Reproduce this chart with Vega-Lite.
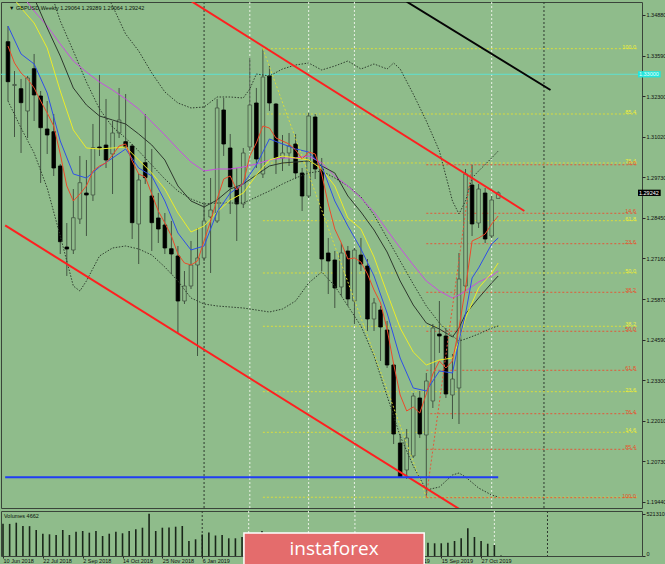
{
"$schema":"https://vega.github.io/schema/vega-lite/v6.json",
"background":"#8fbc8b",
"padding":{"left":0,"top":1,"right":0,"bottom":0},
"spacing":3,
"bounds":"flush",
"config":{"view":{"stroke":"#3a443a","strokeWidth":1,"fill":"#8fbc8b"},"axis":{"labelFont":"Liberation Sans","labelFontSize":5.5,"labelColor":"#101010","tickColor":"#2a2a2a","domainColor":"#2a2a2a","grid":false,"title":null},"text":{"font":"Liberation Sans"}},
"datasets":{
"one":[{}],
"bars":[
{"d":"2018-06-10","o":1.34034,"h":1.34531,"l":1.32153,"c":1.32765,"v":398400},
{"d":"2018-06-17","o":1.32645,"h":1.33105,"l":1.31012,"c":1.32677,"v":396000},
{"d":"2018-06-24","o":1.32543,"h":1.32851,"l":1.30505,"c":1.32100,"v":410700},
{"d":"2018-07-01","o":1.31836,"h":1.32946,"l":1.30980,"c":1.32883,"v":370000},
{"d":"2018-07-08","o":1.33178,"h":1.33644,"l":1.31519,"c":1.32344,"v":368000},
{"d":"2018-07-15","o":1.32312,"h":1.32471,"l":1.29554,"c":1.31307,"v":320700},
{"d":"2018-07-22","o":1.31266,"h":1.32153,"l":1.30473,"c":1.31076,"v":275000},
{"d":"2018-07-29","o":1.31180,"h":1.31741,"l":1.29775,"c":1.30029,"v":267600},
{"d":"2018-08-05","o":1.30093,"h":1.30156,"l":1.27302,"c":1.27692,"v":259000},
{"d":"2018-08-12","o":1.27524,"h":1.28285,"l":1.26605,"c":1.27461,"v":320700},
{"d":"2018-08-19","o":1.27429,"h":1.29363,"l":1.27302,"c":1.28453,"v":259000},
{"d":"2018-08-26","o":1.28412,"h":1.30410,"l":1.28254,"c":1.29563,"v":299700},
{"d":"2018-09-02","o":1.29236,"h":1.30283,"l":1.27873,"c":1.29173,"v":308300},
{"d":"2018-09-09","o":1.29173,"h":1.31424,"l":1.28983,"c":1.30673,"v":287400},
{"d":"2018-09-16","o":1.30695,"h":1.32978,"l":1.30410,"c":1.30663,"v":308300},
{"d":"2018-09-23","o":1.30758,"h":1.32217,"l":1.30029,"c":1.30283,"v":246700},
{"d":"2018-09-30","o":1.30473,"h":1.31519,"l":1.29205,"c":1.31139,"v":275000},
{"d":"2018-10-07","o":1.31139,"h":1.32566,"l":1.30980,"c":1.31551,"v":299700},
{"d":"2018-10-14","o":1.30863,"h":1.32375,"l":1.30663,"c":1.30695,"v":280000},
{"d":"2018-10-21","o":1.30727,"h":1.30790,"l":1.27778,"c":1.28295,"v":308300},
{"d":"2018-10-28","o":1.28254,"h":1.29839,"l":1.26985,"c":1.29649,"v":329300},
{"d":"2018-11-04","o":1.30197,"h":1.31741,"l":1.29522,"c":1.29722,"v":349000},
{"d":"2018-11-11","o":1.29141,"h":1.30632,"l":1.27398,"c":1.28295,"v":521310},
{"d":"2018-11-18","o":1.28444,"h":1.29236,"l":1.27651,"c":1.28095,"v":308300},
{"d":"2018-11-25","o":1.28222,"h":1.28602,"l":1.27302,"c":1.27493,"v":349000},
{"d":"2018-12-02","o":1.27470,"h":1.28349,"l":1.26668,"c":1.27302,"v":351000},
{"d":"2018-12-09","o":1.27239,"h":1.27556,"l":1.24798,"c":1.25812,"v":361400},
{"d":"2018-12-16","o":1.25812,"h":1.26763,"l":1.25717,"c":1.26288,"v":370000},
{"d":"2018-12-23","o":1.26288,"h":1.27715,"l":1.26193,"c":1.26954,"v":185000},
{"d":"2018-12-30","o":1.26954,"h":1.28127,"l":1.24068,"c":1.27176,"v":206000},
{"d":"2019-01-06","o":1.27176,"h":1.28888,"l":1.27080,"c":1.28349,"v":265200},
{"d":"2019-01-13","o":1.28476,"h":1.29712,"l":1.26700,"c":1.28697,"v":289800},
{"d":"2019-01-20","o":1.28349,"h":1.32217,"l":1.28285,"c":1.31932,"v":252800},
{"d":"2019-01-27","o":1.31868,"h":1.32249,"l":1.30410,"c":1.30790,"v":259000},
{"d":"2019-02-03","o":1.30663,"h":1.31107,"l":1.28571,"c":1.29427,"v":218300},
{"d":"2019-02-10","o":1.29395,"h":1.30029,"l":1.27715,"c":1.28888,"v":218300},
{"d":"2019-02-17","o":1.28888,"h":1.30663,"l":1.28761,"c":1.30505,"v":234300},
{"d":"2019-02-24","o":1.30695,"h":1.33517,"l":1.30568,"c":1.32027,"v":246700},
{"d":"2019-03-03","o":1.32090,"h":1.32566,"l":1.30029,"c":1.30315,"v":271300},
{"d":"2019-03-10","o":1.29839,"h":1.33812,"l":1.29712,"c":1.32914,"v":308300},
{"d":"2019-03-17","o":1.32946,"h":1.33263,"l":1.31836,"c":1.32090,"v":271300},
{"d":"2019-03-24","o":1.32058,"h":1.32090,"l":1.29839,"c":1.30346,"v":259000},
{"d":"2019-03-31","o":1.30346,"h":1.31076,"l":1.29934,"c":1.30505,"v":209700},
{"d":"2019-04-07","o":1.30505,"h":1.31139,"l":1.30093,"c":1.30727,"v":185000},
{"d":"2019-04-14","o":1.30790,"h":1.31107,"l":1.29680,"c":1.29871,"v":172700},
{"d":"2019-04-21","o":1.29871,"h":1.30029,"l":1.28666,"c":1.29141,"v":160300},
{"d":"2019-04-28","o":1.29141,"h":1.31773,"l":1.29078,"c":1.31678,"v":197300},
{"d":"2019-05-05","o":1.31646,"h":1.31741,"l":1.29680,"c":1.29997,"v":209700},
{"d":"2019-05-12","o":1.29997,"h":1.30346,"l":1.26763,"c":1.27144,"v":234300},
{"d":"2019-05-19","o":1.27334,"h":1.27810,"l":1.26034,"c":1.27080,"v":209700},
{"d":"2019-05-26","o":1.27112,"h":1.27398,"l":1.25590,"c":1.26224,"v":197300},
{"d":"2019-06-02","o":1.26256,"h":1.27651,"l":1.25971,"c":1.27334,"v":185000},
{"d":"2019-06-09","o":1.27398,"h":1.27556,"l":1.25654,"c":1.25876,"v":185000},
{"d":"2019-06-16","o":1.25812,"h":1.27493,"l":1.25083,"c":1.27429,"v":197300},
{"d":"2019-06-23","o":1.27271,"h":1.27810,"l":1.26763,"c":1.26985,"v":160300},
{"d":"2019-06-30","o":1.26922,"h":1.27144,"l":1.24861,"c":1.25242,"v":172700},
{"d":"2019-07-07","o":1.25242,"h":1.25907,"l":1.24861,"c":1.25749,"v":172700},
{"d":"2019-07-14","o":1.25527,"h":1.25654,"l":1.23910,"c":1.24988,"v":185000},
{"d":"2019-07-21","o":1.24893,"h":1.25178,"l":1.23688,"c":1.23783,"v":209700},
{"d":"2019-07-28","o":1.23783,"h":1.23815,"l":1.21278,"c":1.21595,"v":234300},
{"d":"2019-08-04","o":1.21310,"h":1.21595,"l":1.20200,"c":1.20232,"v":246700},
{"d":"2019-08-11","o":1.20454,"h":1.21754,"l":1.20169,"c":1.21469,"v":209700},
{"d":"2019-08-18","o":1.20898,"h":1.22895,"l":1.20835,"c":1.22800,"v":185000},
{"d":"2019-08-25","o":1.22737,"h":1.22958,"l":1.21469,"c":1.21595,"v":172700},
{"d":"2019-09-01","o":1.21564,"h":1.23529,"l":1.19590,"c":1.23276,"v":164000},
{"d":"2019-09-08","o":1.22642,"h":1.25083,"l":1.22420,"c":1.24956,"v":156600},
{"d":"2019-09-15","o":1.24766,"h":1.25812,"l":1.24164,"c":1.24702,"v":156600},
{"d":"2019-09-22","o":1.24702,"h":1.24956,"l":1.22737,"c":1.22864,"v":164000},
{"d":"2019-09-29","o":1.22832,"h":1.24132,"l":1.22071,"c":1.23339,"v":185000},
{"d":"2019-10-06","o":1.23054,"h":1.27334,"l":1.21912,"c":1.26510,"v":218300},
{"d":"2019-10-13","o":1.26288,"h":1.29997,"l":1.26129,"c":1.29839,"v":341600},
{"d":"2019-10-20","o":1.29490,"h":1.30131,"l":1.27873,"c":1.28254,"v":234300},
{"d":"2019-10-27","o":1.28285,"h":1.29522,"l":1.28127,"c":1.29363,"v":185000},
{"d":"2019-11-03","o":1.29236,"h":1.29395,"l":1.27651,"c":1.27778,"v":151700},
{"d":"2019-11-10","o":1.27873,"h":1.29141,"l":1.27810,"c":1.29015,"v":135700},
{"d":"2019-11-17","o":1.29064,"h":1.29289,"l":1.29064,"c":1.29242,"v":4662}
],
"ma":[
{"d":"2018-06-10","red":1.33897,"blue":1.34531,"yel":1.35641,"dark":1.37226,"vio":1.36117,"bbl":1.32153},
{"d":"2018-06-17","red":1.33358},
{"d":"2018-06-24","red":1.33041,"blue":1.33644,"yel":1.35102,"dark":1.36275,"vio":1.35546,"bbl":1.31297},
{"d":"2018-07-01","red":1.32851},
{"d":"2018-07-08","red":1.32566,"blue":1.33327,"yel":1.34626,"dark":1.35419,"vio":1.35007,"bbm":1.36909,"bbl":1.30505},
{"d":"2018-07-15","red":1.32153},
{"d":"2018-07-22","red":1.31773,"blue":1.32407,"yel":1.33834,"dark":1.34468,"vio":1.34531,"bbm":1.35958,"bbl":1.29395},
{"d":"2018-07-29","red":1.31361},
{"d":"2018-08-05","red":1.30473,"blue":1.30885,"yel":1.32471,"dark":1.33580,"vio":1.33961,"bbm":1.34690,"bbl":1.27873},
{"d":"2018-08-12","red":1.29459},
{"d":"2018-08-19","red":1.28983,"blue":1.29839,"yel":1.31234,"dark":1.32566,"vio":1.33422,"bbm":1.33739,"bbl":1.26288},
{"d":"2018-08-26","red":1.29205,"bbl":1.26129},
{"d":"2018-09-02","red":1.29459,"blue":1.29712,"yel":1.30663,"dark":1.32027,"vio":1.33073,"bbu":1.36909,"bbm":1.32756,"bbl":1.26447},
{"d":"2018-09-09","red":1.29934},
{"d":"2018-09-16","red":1.30093,"blue":1.30061,"yel":1.30632,"dark":1.31678,"vio":1.32756,"bbu":1.35958,"bbm":1.31900,"bbl":1.27239},
{"d":"2018-09-23","red":1.30188},
{"d":"2018-09-30","red":1.30441,"blue":1.30346,"yel":1.30663,"dark":1.31551,"vio":1.32502,"bbu":1.35165,"bbm":1.31329,"bbl":1.27493},
{"d":"2018-10-07","red":1.30727},
{"d":"2018-10-14","red":1.30790,"blue":1.30632,"yel":1.30695,"dark":1.31424,"vio":1.32217,"bbu":1.34278,"bbm":1.30980,"bbl":1.27556},
{"d":"2018-10-21","red":1.30251},
{"d":"2018-10-28","red":1.29839,"blue":1.30029,"yel":1.30283,"dark":1.31107,"vio":1.31900,"bbu":1.33739,"bbm":1.30568,"bbl":1.27461},
{"d":"2018-11-04","red":1.29744},
{"d":"2018-11-11","red":1.29205,"blue":1.29776,"yel":1.29871,"dark":1.30758,"vio":1.31488,"bbu":1.33041,"bbm":1.30124,"bbl":1.27271},
{"d":"2018-11-18","red":1.28666},
{"d":"2018-11-25","red":1.28285,"blue":1.28983,"yel":1.29363,"dark":1.30283,"vio":1.31076,"bbu":1.32439,"bbm":1.29680,"bbl":1.26890},
{"d":"2018-12-02","red":1.27873},
{"d":"2018-12-09","red":1.27302,"blue":1.27968,"yel":1.28602,"dark":1.29459,"vio":1.30632,"bbu":1.32090,"bbm":1.29300,"bbl":1.26447},
{"d":"2018-12-16","red":1.27017},
{"d":"2018-12-23","red":1.26954,"blue":1.27429,"yel":1.28000,"dark":1.28983,"vio":1.30219,"bbu":1.31932,"bbm":1.29046,"bbl":1.25907},
{"d":"2018-12-30","red":1.27080},
{"d":"2019-01-06","red":1.27715,"blue":1.27556,"yel":1.28190,"dark":1.28793,"vio":1.29934,"bbu":1.31963,"bbm":1.28888,"bbl":1.25717},
{"d":"2019-01-13","red":1.28349},
{"d":"2019-01-20","red":1.29046,"blue":1.28634,"yel":1.28634,"dark":1.29015,"vio":1.29997,"bbu":1.32280,"bbm":1.28919,"bbl":1.25654},
{"d":"2019-01-27","red":1.29680},
{"d":"2019-02-03","red":1.29776,"blue":1.29236,"yel":1.29015,"dark":1.29363,"vio":1.29997,"bbu":1.32280,"bbm":1.28919,"bbl":1.25622},
{"d":"2019-02-10","red":1.29332},
{"d":"2019-02-17","red":1.29554,"blue":1.29522,"yel":1.29236,"dark":1.29522,"vio":1.30061,"bbu":1.32249,"bbm":1.28919,"bbl":1.25590},
{"d":"2019-02-24","red":1.30410,"bbu":1.32534},
{"d":"2019-03-03","red":1.30822,"blue":1.30124,"yel":1.29807,"dark":1.29807,"vio":1.30156,"bbu":1.33009,"bbm":1.29110,"bbl":1.25527},
{"d":"2019-03-10","red":1.31361},
{"d":"2019-03-17","red":1.31297,"blue":1.30949,"yel":1.30283,"dark":1.30093,"vio":1.30283,"bbu":1.32946,"bbm":1.29300,"bbl":1.25463},
{"d":"2019-03-24","red":1.30980},
{"d":"2019-03-31","red":1.30885,"blue":1.30790,"yel":1.30410,"dark":1.30188,"vio":1.30346,"bbu":1.33168,"bbm":1.29522,"bbl":1.25558},
{"d":"2019-04-07","red":1.30790},
{"d":"2019-04-14","red":1.30600,"blue":1.30632,"yel":1.30346,"dark":1.30219,"vio":1.30346,"bbu":1.33295,"bbm":1.29712,"bbl":1.25812},
{"d":"2019-04-21","red":1.30315},
{"d":"2019-04-28","red":1.30536,"blue":1.30536,"yel":1.30283,"dark":1.30251,"vio":1.30410,"bbu":1.33358,"bbm":1.29871,"bbl":1.26383},
{"d":"2019-05-05","red":1.30473},
{"d":"2019-05-12","red":1.29839,"blue":1.30093,"yel":1.29997,"dark":1.30093,"vio":1.30188,"bbu":1.33136,"bbm":1.29934,"bbl":1.26732},
{"d":"2019-05-19","red":1.28888},
{"d":"2019-05-26","red":1.28095,"blue":1.28983,"yel":1.29459,"dark":1.29871,"vio":1.29776,"bbu":1.33263,"bbm":1.29712,"bbl":1.26288},
{"d":"2019-06-02","red":1.27651},
{"d":"2019-06-09","red":1.27144,"blue":1.28190,"yel":1.28444,"dark":1.29141,"vio":1.29459,"bbu":1.33422,"bbm":1.29459,"bbl":1.25654},
{"d":"2019-06-16","red":1.27176},
{"d":"2019-06-23","red":1.27049,"blue":1.27461,"yel":1.28095,"dark":1.28634,"vio":1.29078,"bbu":1.33168,"bbm":1.29110,"bbl":1.25020},
{"d":"2019-06-30","red":1.26668},
{"d":"2019-07-07","red":1.26161,"blue":1.26605,"yel":1.27207,"dark":1.28063,"vio":1.28634,"bbu":1.33327,"bbm":1.28539,"bbl":1.24068},
{"d":"2019-07-14","red":1.25749},
{"d":"2019-07-21","red":1.24924,"blue":1.25432,"yel":1.26066,"dark":1.27366,"vio":1.28063,"bbu":1.33168,"bbm":1.27810,"bbl":1.22800},
{"d":"2019-07-28","red":1.23815,"bbu":1.33358},
{"d":"2019-08-04","red":1.22832,"blue":1.24004,"yel":1.24956,"dark":1.26447,"vio":1.27493,"bbu":1.33168,"bbm":1.27080,"bbl":1.21532},
{"d":"2019-08-11","red":1.22325},
{"d":"2019-08-18","red":1.22451,"blue":1.23054,"yel":1.24195,"dark":1.25685,"vio":1.26954,"bbu":1.32375,"bbm":1.26351,"bbl":1.20581},
{"d":"2019-08-25","red":1.22261},
{"d":"2019-09-01","red":1.22864,"blue":1.22959,"yel":1.23783,"dark":1.25115,"vio":1.26447,"bbu":1.31519,"bbm":1.25654,"bbl":1.19820},
{"d":"2019-09-08","red":1.23498},
{"d":"2019-09-15","red":1.23910,"blue":1.23593,"yel":1.23941,"dark":1.24924,"vio":1.26129,"bbu":1.30568,"bbm":1.25115,"bbl":1.19915},
{"d":"2019-09-22","red":1.23688},
{"d":"2019-09-29","red":1.23910,"blue":1.23529,"yel":1.24004,"dark":1.24671,"vio":1.25907,"bbu":1.28983,"bbm":1.24702,"bbl":1.20295},
{"d":"2019-10-06","red":1.24956,"blue":1.24544,"yel":1.24544,"dark":1.24956,"vio":1.26002,"bbu":1.28571,"bbm":1.24544,"bbl":1.20359},
{"d":"2019-10-13","red":1.26224,"blue":1.25400,"yel":1.25273,"dark":1.25400,"vio":1.26129,"bbu":1.28983,"bbm":1.24607,"bbl":1.20232},
{"d":"2019-10-20","red":1.27715,"blue":1.26542,"bbu":1.29712},
{"d":"2019-10-27","red":1.27810,"blue":1.26859,"yel":1.26224,"dark":1.25907,"vio":1.26415,"bbu":1.29934,"bbm":1.24766,"bbl":1.19883},
{"d":"2019-11-03","red":1.27936},
{"d":"2019-11-10","red":1.28254,"blue":1.27619,"yel":1.26700,"dark":1.26383,"vio":1.26605,"bbu":1.30346,"bbm":1.24956,"bbl":1.19661},
{"d":"2019-11-17","red":1.28507,"blue":1.27810,"yel":1.27017,"dark":1.26605,"vio":1.26763,"bbu":1.30568,"bbm":1.25020,"bbl":1.19598}
],
"fib":[
{"set":"Y","lvl":"100.0","p":1.33812,"d":"2019-03-10"},
{"set":"Y","lvl":"85.4","p":1.31741,"d":"2019-03-10"},
{"set":"Y","lvl":"76.4","p":1.30188,"d":"2019-03-10"},
{"set":"Y","lvl":"61.8","p":1.28358,"d":"2019-03-10"},
{"set":"Y","lvl":"50.0","p":1.26700,"d":"2019-03-10"},
{"set":"Y","lvl":"38.2","p":1.25010,"d":"2019-03-10"},
{"set":"Y","lvl":"23.6","p":1.22937,"d":"2019-03-10"},
{"set":"Y","lvl":"14.6","p":1.21649,"d":"2019-03-10"},
{"set":"Y","lvl":"0.0","p":1.19590,"d":"2019-03-10"},
{"set":"R","lvl":"0.0","p":1.30131,"d":"2019-09-01"},
{"set":"R","lvl":"14.6","p":1.28593,"d":"2019-09-01"},
{"set":"R","lvl":"23.6","p":1.27629,"d":"2019-09-01"},
{"set":"R","lvl":"38.2","p":1.26088,"d":"2019-09-01"},
{"set":"R","lvl":"50.0","p":1.24852,"d":"2019-09-01"},
{"set":"R","lvl":"61.8","p":1.23615,"d":"2019-09-01"},
{"set":"R","lvl":"76.4","p":1.22239,"d":"2019-09-01"},
{"set":"R","lvl":"85.4","p":1.21110,"d":"2019-09-01"},
{"set":"R","lvl":"100.0","p":1.19576,"d":"2019-09-01"}
],
"fibdiag":[
{"id":"fy","d":"2019-03-10","p":1.33812},{"id":"fy","d":"2019-09-01","p":1.19590},
{"id":"fr","d":"2019-09-01","p":1.19590},{"id":"fr","d":"2019-10-20","p":1.30131}
],
"trend":[
{"id":"cu","d":"2018-12-23","p":1.35324},{"id":"cu","d":"2019-12-15","p":1.28666},
{"id":"cl","d":"2018-06-07","p":1.28208},{"id":"cl","d":"2019-10-08","p":1.19186},
{"id":"bk","d":"2019-08-11","p":1.35300},{"id":"bk","d":"2020-01-12","p":1.32502},
{"id":"hb","d":"2018-06-07","p":1.20220},{"id":"hb","d":"2019-11-17","p":1.20220}
],
"vl":[
{"d":"2019-01-06","t":"sep"},{"d":"2020-01-05","t":"sep"},
{"d":"2019-02-24","t":"grid"},{"d":"2019-04-28","t":"grid"},{"d":"2019-06-16","t":"grid"},{"d":"2019-11-10","t":"grid"}
]
},
"vconcat":[
{
"width":641,"height":506,
"layer":[
{"data":{"name":"vl"},"mark":{"type":"rule","strokeDash":[2,2],"strokeWidth":1},
 "encoding":{"x":{"field":"d","type":"temporal","scale":{"type":"utc","domain":[{"year":2018,"month":6,"date":7,"hours":21,"minutes":24,"utc":true},{"year":2020,"month":4,"date":13,"hours":15,"utc":true}]},"axis":null},
 "color":{"condition":{"test":"datum.t==='sep'","value":"#2f3a2f"},"value":"#e8f0e4"}}},
{"data":{"name":"fib"},"mark":{"type":"rule","strokeDash":[2,2],"strokeWidth":1},
 "encoding":{"x":{"field":"d","type":"temporal","scale":{"type":"utc","domain":[{"year":2018,"month":6,"date":7,"hours":21,"minutes":24,"utc":true},{"year":2020,"month":4,"date":13,"hours":15,"utc":true}]},"axis":null},
 "x2":{"datum":{"year":2020,"month":4,"date":13,"hours":15,"utc":true}},
 "y":{"field":"p","type":"quantitative","scale":{"domain":[1.19249,1.35292],"zero":false,"nice":false}},
 "color":{"condition":{"test":"datum.set==='Y'","value":"#dadc3c"},"value":"#e2583a"}}},
{"data":{"name":"one"},"mark":{"type":"rule","color":"#5fe0d0","strokeWidth":1},
 "encoding":{"y":{"datum":1.33,"type":"quantitative","scale":{"domain":[1.19249,1.35292],"zero":false,"nice":false}}}},
{"data":{"name":"bars"},"mark":{"type":"rule","color":"#435443","strokeWidth":1},
 "encoding":{"x":{"field":"d","type":"temporal","scale":{"type":"utc","domain":[{"year":2018,"month":6,"date":7,"hours":21,"minutes":24,"utc":true},{"year":2020,"month":4,"date":13,"hours":15,"utc":true}]},"axis":null},
 "y":{"field":"l","type":"quantitative","scale":{"domain":[1.19249,1.35292],"zero":false,"nice":false},
  "axis":{"orient":"right","title":null,"values":[1.3488,1.3423,1.3359,1.3295,1.323,1.3166,1.3102,1.3037,1.2973,1.2909,1.2845,1.278,1.2716,1.2652,1.2587,1.2523,1.2459,1.2394,1.233,1.2266,1.2201,1.2137,1.2073,1.2008,1.1944],"format":".5f","tickSize":3,"labelPadding":1,"domain":false,"labelOverlap":false}},
 "y2":{"field":"h"}}},
{"data":{"name":"bars"},"mark":{"type":"bar","size":3.6,"strokeWidth":0.8},
 "encoding":{"x":{"field":"d","type":"temporal","scale":{"type":"utc","domain":[{"year":2018,"month":6,"date":7,"hours":21,"minutes":24,"utc":true},{"year":2020,"month":4,"date":13,"hours":15,"utc":true}]},"axis":null},
 "y":{"field":"o","type":"quantitative","scale":{"domain":[1.19249,1.35292],"zero":false,"nice":false}},
 "y2":{"field":"c"},
 "fill":{"condition":{"test":"datum.c < datum.o","value":"#000000"},"value":"#8fbc8b"},
 "stroke":{"condition":{"test":"datum.c < datum.o","value":"#000000"},"value":"#435443"}}},
{"data":{"name":"ma"},"transform":[{"filter":"isValid(datum.bbu)"}],"mark":{"type":"line","color":"#2f3f2f","strokeWidth":1,"strokeDash":[1.5,1.5],"clip":true},
 "encoding":{"x":{"field":"d","type":"temporal","scale":{"type":"utc","domain":[{"year":2018,"month":6,"date":7,"hours":21,"minutes":24,"utc":true},{"year":2020,"month":4,"date":13,"hours":15,"utc":true}]},"axis":null},
 "y":{"field":"bbu","type":"quantitative","scale":{"domain":[1.19249,1.35292],"zero":false,"nice":false}}}},
{"data":{"name":"ma"},"transform":[{"filter":"isValid(datum.bbm)"}],"mark":{"type":"line","color":"#2f3f2f","strokeWidth":1,"strokeDash":[1.5,1.5],"clip":true},
 "encoding":{"x":{"field":"d","type":"temporal","scale":{"type":"utc","domain":[{"year":2018,"month":6,"date":7,"hours":21,"minutes":24,"utc":true},{"year":2020,"month":4,"date":13,"hours":15,"utc":true}]},"axis":null},
 "y":{"field":"bbm","type":"quantitative","scale":{"domain":[1.19249,1.35292],"zero":false,"nice":false}}}},
{"data":{"name":"ma"},"transform":[{"filter":"isValid(datum.bbl)"}],"mark":{"type":"line","color":"#2f3f2f","strokeWidth":1,"strokeDash":[1.5,1.5],"clip":true},
 "encoding":{"x":{"field":"d","type":"temporal","scale":{"type":"utc","domain":[{"year":2018,"month":6,"date":7,"hours":21,"minutes":24,"utc":true},{"year":2020,"month":4,"date":13,"hours":15,"utc":true}]},"axis":null},
 "y":{"field":"bbl","type":"quantitative","scale":{"domain":[1.19249,1.35292],"zero":false,"nice":false}}}},
{"data":{"name":"ma"},"transform":[{"filter":"isValid(datum.vio)"}],"mark":{"type":"line","color":"#c84ee0","strokeWidth":1,"clip":true},
 "encoding":{"x":{"field":"d","type":"temporal","scale":{"type":"utc","domain":[{"year":2018,"month":6,"date":7,"hours":21,"minutes":24,"utc":true},{"year":2020,"month":4,"date":13,"hours":15,"utc":true}]},"axis":null},
 "y":{"field":"vio","type":"quantitative","scale":{"domain":[1.19249,1.35292],"zero":false,"nice":false}}}},
{"data":{"name":"ma"},"transform":[{"filter":"isValid(datum.dark)"}],"mark":{"type":"line","color":"#2e382e","strokeWidth":1,"clip":true},
 "encoding":{"x":{"field":"d","type":"temporal","scale":{"type":"utc","domain":[{"year":2018,"month":6,"date":7,"hours":21,"minutes":24,"utc":true},{"year":2020,"month":4,"date":13,"hours":15,"utc":true}]},"axis":null},
 "y":{"field":"dark","type":"quantitative","scale":{"domain":[1.19249,1.35292],"zero":false,"nice":false}}}},
{"data":{"name":"ma"},"transform":[{"filter":"isValid(datum.yel)"}],"mark":{"type":"line","color":"#ecec28","strokeWidth":1,"clip":true},
 "encoding":{"x":{"field":"d","type":"temporal","scale":{"type":"utc","domain":[{"year":2018,"month":6,"date":7,"hours":21,"minutes":24,"utc":true},{"year":2020,"month":4,"date":13,"hours":15,"utc":true}]},"axis":null},
 "y":{"field":"yel","type":"quantitative","scale":{"domain":[1.19249,1.35292],"zero":false,"nice":false}}}},
{"data":{"name":"ma"},"transform":[{"filter":"isValid(datum.blue)"}],"mark":{"type":"line","color":"#2e4fe8","strokeWidth":1,"clip":true},
 "encoding":{"x":{"field":"d","type":"temporal","scale":{"type":"utc","domain":[{"year":2018,"month":6,"date":7,"hours":21,"minutes":24,"utc":true},{"year":2020,"month":4,"date":13,"hours":15,"utc":true}]},"axis":null},
 "y":{"field":"blue","type":"quantitative","scale":{"domain":[1.19249,1.35292],"zero":false,"nice":false}}}},
{"data":{"name":"ma"},"transform":[{"filter":"isValid(datum.red)"}],"mark":{"type":"line","color":"#ec4a2a","strokeWidth":1,"clip":true},
 "encoding":{"x":{"field":"d","type":"temporal","scale":{"type":"utc","domain":[{"year":2018,"month":6,"date":7,"hours":21,"minutes":24,"utc":true},{"year":2020,"month":4,"date":13,"hours":15,"utc":true}]},"axis":null},
 "y":{"field":"red","type":"quantitative","scale":{"domain":[1.19249,1.35292],"zero":false,"nice":false}}}},
{"data":{"name":"fibdiag"},"mark":{"type":"line","strokeWidth":1,"strokeDash":[2,2],"clip":true},
 "encoding":{"x":{"field":"d","type":"temporal","scale":{"type":"utc","domain":[{"year":2018,"month":6,"date":7,"hours":21,"minutes":24,"utc":true},{"year":2020,"month":4,"date":13,"hours":15,"utc":true}]},"axis":null},
 "y":{"field":"p","type":"quantitative","scale":{"domain":[1.19249,1.35292],"zero":false,"nice":false}},
 "detail":{"field":"id"},
 "color":{"condition":{"test":"datum.id==='fy'","value":"#dadc3c"},"value":"#e2583a"}}},
{"data":{"name":"trend"},"mark":{"type":"line","strokeWidth":2,"clip":true},
 "encoding":{"x":{"field":"d","type":"temporal","scale":{"type":"utc","domain":[{"year":2018,"month":6,"date":7,"hours":21,"minutes":24,"utc":true},{"year":2020,"month":4,"date":13,"hours":15,"utc":true}]},"axis":null},
 "y":{"field":"p","type":"quantitative","scale":{"domain":[1.19249,1.35292],"zero":false,"nice":false}},
 "color":{"field":"id","type":"nominal","scale":{"domain":["cu","cl","bk","hb"],"range":["#ff1f1f","#ff1f1f","#050505","#1f3df5"]},"legend":null}}},
{"data":{"name":"fib"},"transform":[{"filter":"datum.set==='R' || datum.lvl!=='0.0'"}],"mark":{"type":"text","align":"right","baseline":"alphabetic","dx":-1,"fontSize":5.5},
 "encoding":{"x":{"datum":{"year":2020,"month":4,"date":13,"hours":15,"utc":true},"type":"temporal","scale":{"type":"utc","domain":[{"year":2018,"month":6,"date":7,"hours":21,"minutes":24,"utc":true},{"year":2020,"month":4,"date":13,"hours":15,"utc":true}]},"axis":null},
 "y":{"field":"p","type":"quantitative","scale":{"domain":[1.19249,1.35292],"zero":false,"nice":false}},
 "text":{"field":"lvl"},
 "color":{"condition":{"test":"datum.set==='Y'","value":"#f0f03a"},"value":"#e8502a"}}},
{"data":{"name":"one"},"mark":{"type":"rect","color":"#22e6dc"},
 "encoding":{"x":{"datum":{"year":2020,"month":4,"date":14,"hours":16,"utc":true},"type":"temporal","scale":{"type":"utc","domain":[{"year":2018,"month":6,"date":7,"hours":21,"minutes":24,"utc":true},{"year":2020,"month":4,"date":13,"hours":15,"utc":true}]},"axis":null},
 "x2":{"datum":{"year":2020,"month":5,"date":9,"utc":true}},
 "y":{"datum":1.3310,"type":"quantitative","scale":{"domain":[1.19249,1.35292],"zero":false,"nice":false}},
 "y2":{"datum":1.3290}}},
{"data":{"name":"one"},"mark":{"type":"rect","color":"#000000"},
 "encoding":{"x":{"datum":{"year":2020,"month":4,"date":14,"hours":16,"utc":true},"type":"temporal","scale":{"type":"utc","domain":[{"year":2018,"month":6,"date":7,"hours":21,"minutes":24,"utc":true},{"year":2020,"month":4,"date":13,"hours":15,"utc":true}]},"axis":null},
 "x2":{"datum":{"year":2020,"month":5,"date":9,"utc":true}},
 "y":{"datum":1.29342,"type":"quantitative","scale":{"domain":[1.19249,1.35292],"zero":false,"nice":false}},
 "y2":{"datum":1.29142}}},
{"data":{"name":"one"},"mark":{"type":"text","align":"left","baseline":"middle","fontSize":5.5,"color":"#e8fffd","dx":1},
 "encoding":{"x":{"datum":{"year":2020,"month":4,"date":14,"hours":16,"utc":true},"type":"temporal","scale":{"type":"utc","domain":[{"year":2018,"month":6,"date":7,"hours":21,"minutes":24,"utc":true},{"year":2020,"month":4,"date":13,"hours":15,"utc":true}]},"axis":null},
 "y":{"datum":1.33,"type":"quantitative","scale":{"domain":[1.19249,1.35292],"zero":false,"nice":false}},
 "text":{"value":"1.33000"}}},
{"data":{"name":"one"},"mark":{"type":"text","align":"left","baseline":"middle","fontSize":5.5,"color":"#ffffff","dx":1},
 "encoding":{"x":{"datum":{"year":2020,"month":4,"date":14,"hours":16,"utc":true},"type":"temporal","scale":{"type":"utc","domain":[{"year":2018,"month":6,"date":7,"hours":21,"minutes":24,"utc":true},{"year":2020,"month":4,"date":13,"hours":15,"utc":true}]},"axis":null},
 "y":{"datum":1.29242,"type":"quantitative","scale":{"domain":[1.19249,1.35292],"zero":false,"nice":false}},
 "text":{"value":"1.29242"}}},
{"data":{"name":"one"},"mark":{"type":"text","align":"left","baseline":"middle","fontSize":5.5,"color":"#0a140a","dx":3},
 "encoding":{"x":{"datum":{"year":2018,"month":6,"date":7,"hours":21,"minutes":24,"utc":true},"type":"temporal","scale":{"type":"utc","domain":[{"year":2018,"month":6,"date":7,"hours":21,"minutes":24,"utc":true},{"year":2020,"month":4,"date":13,"hours":15,"utc":true}]},"axis":null},
 "y":{"datum":1.35102,"type":"quantitative","scale":{"domain":[1.19249,1.35292],"zero":false,"nice":false}},
 "text":{"value":"▼ GBPUSD,Weekly  1.29064 1.29289 1.29064 1.29242"}}}
]
},
{
"width":641,"height":45,
"layer":[
{"data":{"name":"vl"},"mark":{"type":"rule","strokeDash":[2,2],"strokeWidth":1},
 "encoding":{"x":{"field":"d","type":"temporal","scale":{"type":"utc","domain":[{"year":2018,"month":6,"date":7,"hours":21,"minutes":24,"utc":true},{"year":2020,"month":4,"date":13,"hours":15,"utc":true}]},
  "axis":{"orient":"bottom","title":null,"values":[{"year":2018,"month":6,"date":10,"utc":true},{"year":2018,"month":7,"date":22,"utc":true},{"year":2018,"month":9,"date":2,"utc":true},{"year":2018,"month":10,"date":14,"utc":true},{"year":2018,"month":11,"date":25,"utc":true},{"year":2019,"month":1,"date":6,"utc":true},{"year":2019,"month":8,"date":4,"utc":true},{"year":2019,"month":9,"date":15,"utc":true},{"year":2019,"month":10,"date":27,"utc":true}],"labelExpr":"utcFormat(datum.value, '%-d %b %Y')","labelAlign":"left","tickSize":2,"labelPadding":0,"domain":false,"labelOverlap":false,"labelFlush":false}},
 "color":{"condition":{"test":"datum.t==='sep'","value":"#2f3a2f"},"value":"#e8f0e4"}}},
{"data":{"name":"bars"},"mark":{"type":"rule","color":"#1a261a","strokeWidth":1.6},
 "encoding":{"x":{"field":"d","type":"temporal","scale":{"type":"utc","domain":[{"year":2018,"month":6,"date":7,"hours":21,"minutes":24,"utc":true},{"year":2020,"month":4,"date":13,"hours":15,"utc":true}]}},
 "y":{"field":"v","type":"quantitative","scale":{"domain":[0,555000],"nice":false},"axis":{"orient":"right","title":null,"values":[0,521310],"format":"d","tickSize":3,"labelPadding":1,"domain":false,"labelFlush":true}},
 "y2":{"datum":0}}},
{"data":{"name":"one"},"mark":{"type":"text","align":"left","baseline":"middle","fontSize":5.5,"color":"#0a140a","dx":3},
 "encoding":{"x":{"datum":{"year":2018,"month":6,"date":7,"hours":21,"minutes":24,"utc":true},"type":"temporal","scale":{"type":"utc","domain":[{"year":2018,"month":6,"date":7,"hours":21,"minutes":24,"utc":true},{"year":2020,"month":4,"date":13,"hours":15,"utc":true}]}},
 "y":{"datum":493000,"type":"quantitative","scale":{"domain":[0,555000],"nice":false}},
 "text":{"value":"Volumes 4662"}}},
{"data":{"name":"one"},"mark":{"type":"rect","fill":"#e46c6c","stroke":"#ffffff","strokeWidth":1.5},
 "encoding":{"x":{"datum":{"year":2019,"month":2,"date":19,"utc":true},"type":"temporal","scale":{"type":"utc","domain":[{"year":2018,"month":6,"date":7,"hours":21,"minutes":24,"utc":true},{"year":2020,"month":4,"date":13,"hours":15,"utc":true}]}},
 "x2":{"datum":{"year":2019,"month":8,"date":28,"utc":true}},
 "y":{"datum":283700,"type":"quantitative","scale":{"domain":[0,555000],"nice":false}},
 "y2":{"datum":-200000}}},
{"data":{"name":"one"},"mark":{"type":"text","align":"center","baseline":"middle","fontSize":19,"font":"Open Sans","color":"#ffffff"},
 "encoding":{"x":{"datum":{"year":2019,"month":5,"date":25,"utc":true},"type":"temporal","scale":{"type":"utc","domain":[{"year":2018,"month":6,"date":7,"hours":21,"minutes":24,"utc":true},{"year":2020,"month":4,"date":13,"hours":15,"utc":true}]}},
 "y":{"datum":86300,"type":"quantitative","scale":{"domain":[0,555000],"nice":false}},
 "text":{"value":"instaforex"}}}
]
}
]
}
